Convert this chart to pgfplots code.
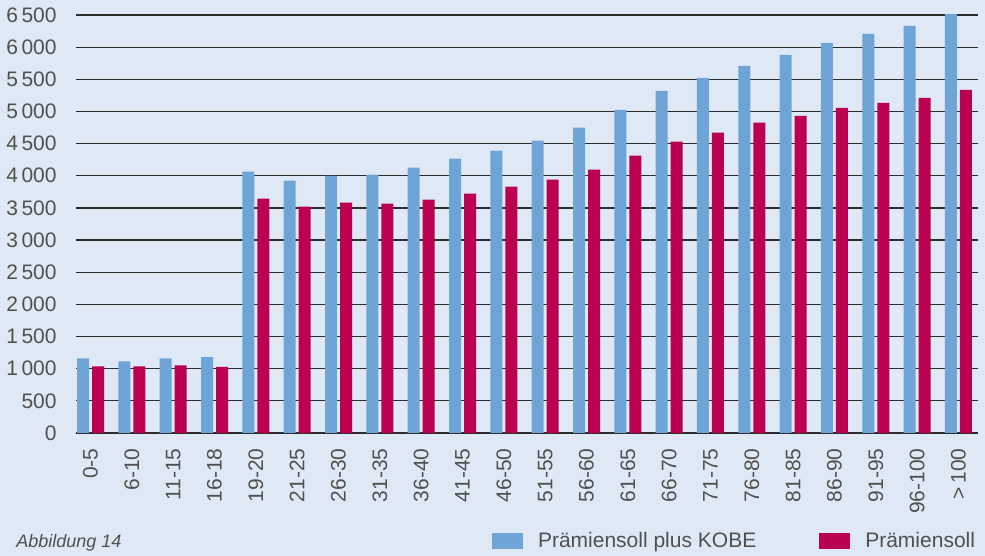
\documentclass[border=0pt]{standalone}
\usepackage{pgfplots}
\pgfplotsset{compat=1.18}
\usepackage{fontspec}
\setmainfont{Liberation Sans}
\definecolor{bg}{RGB}{223,233,245}
\definecolor{barblue}{RGB}{111,165,214}
\definecolor{barred}{RGB}{187,0,82}
\definecolor{txt}{RGB}{80,80,80}
\definecolor{gridc}{RGB}{45,45,45}
\begin{document}
\begin{tikzpicture}
\path[use as bounding box, fill=bg] (-38pt,-61.5pt) rectangle (454.5pt,216.5pt);
\begin{axis}[
  at={(0pt,0pt)}, anchor=south west,
  scale only axis, width=451pt, height=209pt,
  ybar=1.5pt, bar width=6pt,
  xmin=-0.351, xmax=21.472,
  ymin=0, ymax=6500,
  ytick={0,500,...,6500},
  xtick={0,...,21},
  xticklabels={0-5,6-10,11-15,16-18,19-20,21-25,26-30,31-35,36-40,41-45,46-50,51-55,56-60,61-65,66-70,71-75,76-80,81-85,86-90,91-95,96-100,{>\,100}},
  axis line style={draw=none},
  major tick length=0pt,
  ymajorgrids, major grid style={gridc, line width=0.6pt},
  tick label style={font=\fontsize{10.5}{12}\selectfont, text=txt},
  /pgf/number format/assume math mode=true,
  /pgf/number format/1000 sep={\,},
  yticklabel style={anchor=east, inner sep=0pt, xshift=-9.5pt},
  xticklabel style={rotate=90, anchor=east, inner sep=0pt, xshift=-7.5pt},
  legend columns=2,
  legend style={at={(0.9967,-0.2584)}, anchor=east, draw=none, fill=none,
    inner sep=0pt, outer sep=0pt,
    font=\fontsize{10.5}{12}\selectfont, text=txt,
    nodes={inner sep=0pt},
    /tikz/every even column/.append style={column sep=31.5pt}},
]
\addplot[fill=barblue, draw=none,
  legend image code/.code={\fill[barblue] (0pt,-4pt) rectangle (15.5pt,4pt); \path (23pt,0pt);}]
 coordinates {(0,1160) (1,1115) (2,1160) (3,1180) (4,4065) (5,3925) (6,4000) (7,4018) (8,4127) (9,4266) (10,4390) (11,4545) (12,4747) (13,5026) (14,5321) (15,5523) (16,5709) (17,5880) (18,6066) (19,6205) (20,6330) (21,6547)};
\addlegendentry{Prämiensoll plus KOBE}
\addplot[fill=barred, draw=none,
  legend image code/.code={\fill[barred] (0pt,-4pt) rectangle (15.5pt,4pt); \path (23pt,0pt);}]
 coordinates {(0,1035) (1,1035) (2,1050) (3,1030) (4,3646) (5,3522) (6,3584) (7,3568) (8,3630) (9,3723) (10,3832) (11,3940) (12,4096) (13,4313) (14,4530) (15,4670) (16,4825) (17,4933) (18,5057) (19,5135) (20,5213) (21,5337)};
\addlegendentry{Prämiensoll}
\end{axis}
\node[anchor=base west, inner sep=0pt, text=txt, font=\fontsize{9}{11}\selectfont\itshape] at (-30pt,-57.5pt) {Abbildung 14};
\end{tikzpicture}
\end{document}
